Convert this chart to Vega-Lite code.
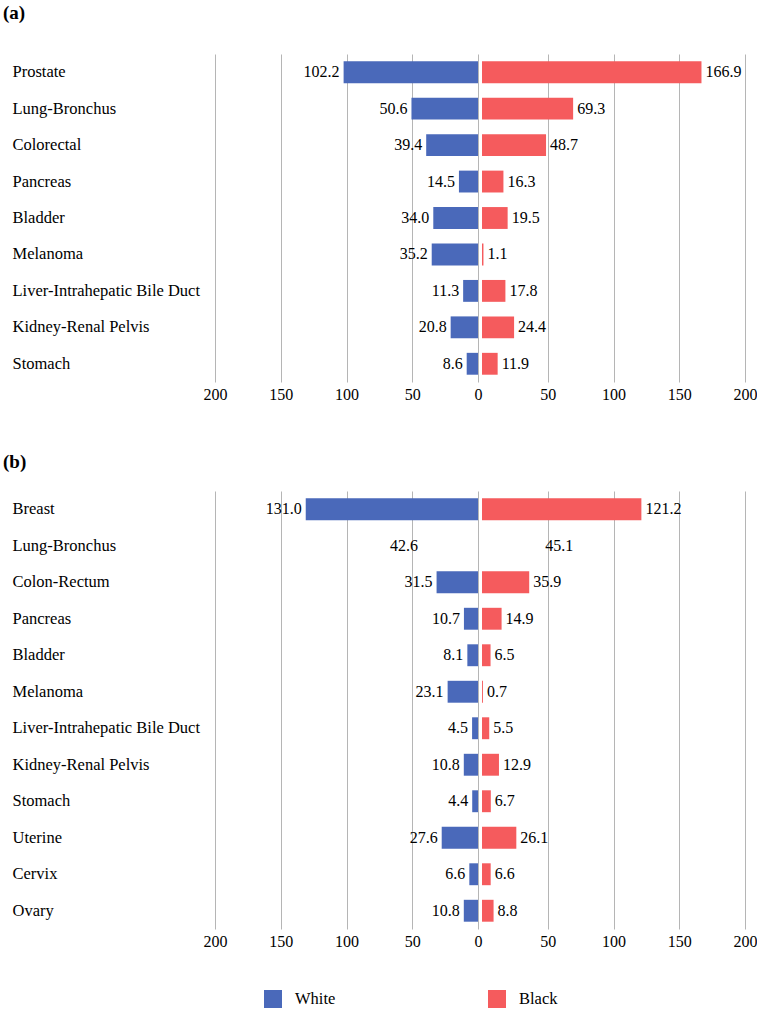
{
  "$schema": "https://vega.github.io/schema/vega-lite/v6.json",
  "padding": {"left": 3, "top": 4, "right": 0, "bottom": 66},
  "background": "white",
  "config": {
    "font": "Liberation Serif",
    "view": {"stroke": null},
    "axis": {"labelFont": "Liberation Serif", "labelFontSize": 16, "labelColor": "#000", "title": null},
    "legend": {"labelFont": "Liberation Serif"},
    "text": {"font": "Liberation Serif", "fontSize": 16, "color": "#000"},
    "title": {"font": "Liberation Serif", "fontSize": 19, "fontWeight": "bold", "color": "#000", "anchor": "start", "frame": "bounds"}
  },
  "datasets": {
    "a": [
      {"site": "Prostate", "race": "White", "rate": 102.2},
      {"site": "Prostate", "race": "Black", "rate": 166.9},
      {"site": "Lung-Bronchus", "race": "White", "rate": 50.6},
      {"site": "Lung-Bronchus", "race": "Black", "rate": 69.3},
      {"site": "Colorectal", "race": "White", "rate": 39.4},
      {"site": "Colorectal", "race": "Black", "rate": 48.7},
      {"site": "Pancreas", "race": "White", "rate": 14.5},
      {"site": "Pancreas", "race": "Black", "rate": 16.3},
      {"site": "Bladder", "race": "White", "rate": 34.0},
      {"site": "Bladder", "race": "Black", "rate": 19.5},
      {"site": "Melanoma", "race": "White", "rate": 35.2},
      {"site": "Melanoma", "race": "Black", "rate": 1.1},
      {"site": "Liver-Intrahepatic Bile Duct", "race": "White", "rate": 11.3},
      {"site": "Liver-Intrahepatic Bile Duct", "race": "Black", "rate": 17.8},
      {"site": "Kidney-Renal Pelvis", "race": "White", "rate": 20.8},
      {"site": "Kidney-Renal Pelvis", "race": "Black", "rate": 24.4},
      {"site": "Stomach", "race": "White", "rate": 8.6},
      {"site": "Stomach", "race": "Black", "rate": 11.9}
    ],
    "b": [
      {"site": "Breast", "race": "White", "rate": 131.0},
      {"site": "Breast", "race": "Black", "rate": 121.2},
      {"site": "Lung-Bronchus", "race": "White", "rate": 42.6},
      {"site": "Lung-Bronchus", "race": "Black", "rate": 45.1},
      {"site": "Colon-Rectum", "race": "White", "rate": 31.5},
      {"site": "Colon-Rectum", "race": "Black", "rate": 35.9},
      {"site": "Pancreas", "race": "White", "rate": 10.7},
      {"site": "Pancreas", "race": "Black", "rate": 14.9},
      {"site": "Bladder", "race": "White", "rate": 8.1},
      {"site": "Bladder", "race": "Black", "rate": 6.5},
      {"site": "Melanoma", "race": "White", "rate": 23.1},
      {"site": "Melanoma", "race": "Black", "rate": 0.7},
      {"site": "Liver-Intrahepatic Bile Duct", "race": "White", "rate": 4.5},
      {"site": "Liver-Intrahepatic Bile Duct", "race": "Black", "rate": 5.5},
      {"site": "Kidney-Renal Pelvis", "race": "White", "rate": 10.8},
      {"site": "Kidney-Renal Pelvis", "race": "Black", "rate": 12.9},
      {"site": "Stomach", "race": "White", "rate": 4.4},
      {"site": "Stomach", "race": "Black", "rate": 6.7},
      {"site": "Uterine", "race": "White", "rate": 27.6},
      {"site": "Uterine", "race": "Black", "rate": 26.1},
      {"site": "Cervix", "race": "White", "rate": 6.6},
      {"site": "Cervix", "race": "Black", "rate": 6.6},
      {"site": "Ovary", "race": "White", "rate": 10.8},
      {"site": "Ovary", "race": "Black", "rate": 8.8}
    ]
  },
  "resolve": {"scale": {"x": "independent", "y": "independent", "color": "shared"}},
  "spacing": 51,
  "vconcat": [
    {
      "title": {"text": "(a)", "dx": -9, "offset": 31},
      "spacing": 0,
      "resolve": {"scale": {"x": "independent", "y": "shared"}},
      "hconcat": [
        {
          "width": 263, "height": 328,
          "data": {"name": "a"},
          "transform": [{"filter": "datum.race == 'White'"}],
          "encoding": {
            "y": {"field": "site", "type": "nominal",
              "sort": ["Prostate", "Lung-Bronchus", "Colorectal", "Pancreas", "Bladder", "Melanoma", "Liver-Intrahepatic Bile Duct", "Kidney-Renal Pelvis", "Stomach"],
              "scale": {"paddingInner": 0.4, "paddingOuter": 0.2},
              "axis": {"labelAlign": "left", "labelPadding": 203, "labelFontSize": 16.5, "ticks": false, "domain": false, "grid": false, "labelLimit": 300}},
            "x": {"field": "rate", "type": "quantitative",
              "scale": {"domain": [0, 200], "reverse": true, "nice": false},
              "axis": {"values": [0, 50, 100, 150, 200], "grid": true, "gridColor": "#b5b5b5", "gridWidth": 1, "domain": false, "ticks": false, "labelPadding": 4, "labelFlush": false, "labelOverlap": false}}
          },
          "layer": [
            {"mark": {"type": "bar"},
             "encoding": {"color": {"field": "race", "type": "nominal", "scale": {"domain": ["White", "Black"], "range": ["#4a69ba", "#f55b5d"]},
               "legend": {"orient": "none", "legendX": 49, "legendY": 936, "direction": "horizontal", "title": null, "symbolType": "square", "symbolSize": 324, "symbolStrokeWidth": 0, "labelFontSize": 16.5, "labelFont": "Liberation Serif", "labelColor": "#000", "labelOffset": 13, "columnPadding": 152}}}},
            {"mark": {"type": "text", "align": "right", "dx": -4, "baseline": "middle", "font": "Liberation Serif"},
             "encoding": {"text": {"field": "rate", "type": "quantitative", "format": ".1f"}}}
          ]
        },
        {
          "width": 263, "height": 328,
          "data": {"name": "a"},
          "transform": [{"filter": "datum.race == 'Black'"}],
          "encoding": {
            "y": {"field": "site", "type": "nominal",
              "sort": ["Prostate", "Lung-Bronchus", "Colorectal", "Pancreas", "Bladder", "Melanoma", "Liver-Intrahepatic Bile Duct", "Kidney-Renal Pelvis", "Stomach"],
              "scale": {"paddingInner": 0.4, "paddingOuter": 0.2},
              "axis": null},
            "x": {"field": "rate", "type": "quantitative",
              "scale": {"domain": [0, 200], "nice": false},
              "axis": {"values": [50, 100, 150, 200], "grid": true, "gridColor": "#b5b5b5", "gridWidth": 1, "domain": false, "ticks": false, "labelPadding": 4, "labelFlush": false, "labelOverlap": false}}
          },
          "layer": [
            {"mark": {"type": "bar"},
             "encoding": {"color": {"field": "race", "type": "nominal"}}},
            {"mark": {"type": "text", "align": "left", "dx": 4, "baseline": "middle", "font": "Liberation Serif"},
             "encoding": {"text": {"field": "rate", "type": "quantitative", "format": ".1f"}}}
          ]
        }
      ]
    },
    {
      "title": {"text": "(b)", "dx": -9, "offset": 19},
      "spacing": 0,
      "resolve": {"scale": {"x": "independent", "y": "shared"}},
      "hconcat": [
        {
          "width": 263, "height": 438,
          "data": {"name": "b"},
          "transform": [{"filter": "datum.race == 'White'"}],
          "encoding": {
            "y": {"field": "site", "type": "nominal",
              "sort": ["Breast", "Lung-Bronchus", "Colon-Rectum", "Pancreas", "Bladder", "Melanoma", "Liver-Intrahepatic Bile Duct", "Kidney-Renal Pelvis", "Stomach", "Uterine", "Cervix", "Ovary"],
              "scale": {"paddingInner": 0.4, "paddingOuter": 0.2},
              "axis": {"labelAlign": "left", "labelPadding": 203, "labelFontSize": 16.5, "ticks": false, "domain": false, "grid": false, "labelLimit": 300}},
            "x": {"field": "rate", "type": "quantitative",
              "scale": {"domain": [0, 200], "reverse": true, "nice": false},
              "axis": {"values": [0, 50, 100, 150, 200], "grid": true, "gridColor": "#b5b5b5", "gridWidth": 1, "domain": false, "ticks": false, "labelPadding": 4, "labelFlush": false, "labelOverlap": false}}
          },
          "layer": [
            {"mark": {"type": "bar"},
             "transform": [{"filter": "datum.site != 'Lung-Bronchus'"}],
             "encoding": {"color": {"field": "race", "type": "nominal"}}},
            {"mark": {"type": "text", "align": "right", "dx": -4, "baseline": "middle", "font": "Liberation Serif"},
             "encoding": {"text": {"field": "rate", "type": "quantitative", "format": ".1f"}}}
          ]
        },
        {
          "width": 263, "height": 438,
          "data": {"name": "b"},
          "transform": [{"filter": "datum.race == 'Black'"}],
          "encoding": {
            "y": {"field": "site", "type": "nominal",
              "sort": ["Breast", "Lung-Bronchus", "Colon-Rectum", "Pancreas", "Bladder", "Melanoma", "Liver-Intrahepatic Bile Duct", "Kidney-Renal Pelvis", "Stomach", "Uterine", "Cervix", "Ovary"],
              "scale": {"paddingInner": 0.4, "paddingOuter": 0.2},
              "axis": null},
            "x": {"field": "rate", "type": "quantitative",
              "scale": {"domain": [0, 200], "nice": false},
              "axis": {"values": [50, 100, 150, 200], "grid": true, "gridColor": "#b5b5b5", "gridWidth": 1, "domain": false, "ticks": false, "labelPadding": 4, "labelFlush": false, "labelOverlap": false}}
          },
          "layer": [
            {"mark": {"type": "bar"},
             "transform": [{"filter": "datum.site != 'Lung-Bronchus'"}],
             "encoding": {"color": {"field": "race", "type": "nominal"}}},
            {"mark": {"type": "text", "align": "left", "dx": 4, "baseline": "middle", "font": "Liberation Serif"},
             "encoding": {"text": {"field": "rate", "type": "quantitative", "format": ".1f"}}}
          ]
        }
      ]
    }
  ]
}
